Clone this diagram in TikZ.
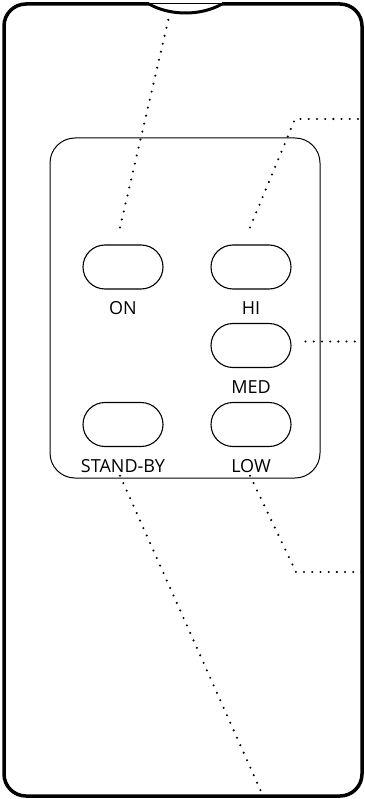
\documentclass[tikz,border=0pt]{standalone}
\usepackage{fontspec}
\setmainfont{Open Sans}
\usetikzlibrary{positioning,calc}
\tikzset{
  key/.style={draw, line width=1.1pt, rounded corners=22pt, minimum width=80pt, minimum height=44pt, inner sep=0pt},
  keylabel/.style={inner sep=0pt, font=\fontsize{18}{20}\selectfont},
  leader/.style={line width=2.3pt, dash pattern=on 0pt off 8.2pt, line cap=round}
}
\begin{document}
\begin{tikzpicture}[x=1pt, y=-1pt]
  \useasboundingbox (0,0) rectangle (364,799);
  % casing with the notch on top
  \draw[line width=3.5pt, rounded corners=22pt] (222,4) -- (362,4) -- (362,796) -- (4,796) -- (4,4) -- (149,4);
  \draw[line width=3pt] (149,4) .. controls (170,16) and (201,16) .. (222,4);
  \draw[line width=1pt] (149,4) -- (222,4);
  % key panel
  \draw[line width=1pt, rounded corners=25pt] (50,138) rectangle (320,478);
  \node[key] (on) at (123,267) {};
  \node[key] (hi) at (251,267) {};
  \node[key] (med) at (251,345.5) {};
  \node[key] (standby) at (123,424.5) {};
  \node[key] (low) at (251,424.5) {};
  \node[keylabel, below=12pt of on] (on-l) {ON};
  \node[keylabel, below=12pt of hi] (hi-l) {HI};
  \node[keylabel, below=12pt of med] (med-l) {MED};
  \node[keylabel, below=12pt of standby] (standby-l) {STAND-BY};
  \node[keylabel, below=12pt of low] (low-l) {LOW};
  % leader lines
  \coordinate (on-a) at ($(on.north)+(-3,-17)$);
  \coordinate (on-b) at (172,4);
  \coordinate (hi-a) at ($(hi.north)+(-1,-17)$);
  \coordinate (hi-b) at (295,119);
  \coordinate (hi-c) at (362,119);
  \coordinate (med-a) at ($(med.east)+(14,-4)$);
  \coordinate (med-b) at (362,341.5);
  \coordinate (low-a) at ($(low-l.south)+(-1,3)$);
  \coordinate (low-b) at (296,572);
  \coordinate (low-c) at (362,572);
  \coordinate (standby-a) at ($(standby-l.south)+(-3,3)$);
  \coordinate (standby-b) at (263,796);
  \draw[leader] (on-a) -- (on-b);
  \draw[leader] (hi-a) -- (hi-b) -- (hi-c);
  \draw[leader] (med-a) -- (med-b);
  \draw[leader] (low-a) -- (low-b) -- (low-c);
  \draw[leader] (standby-a) -- (standby-b);
\end{tikzpicture}
\end{document}
